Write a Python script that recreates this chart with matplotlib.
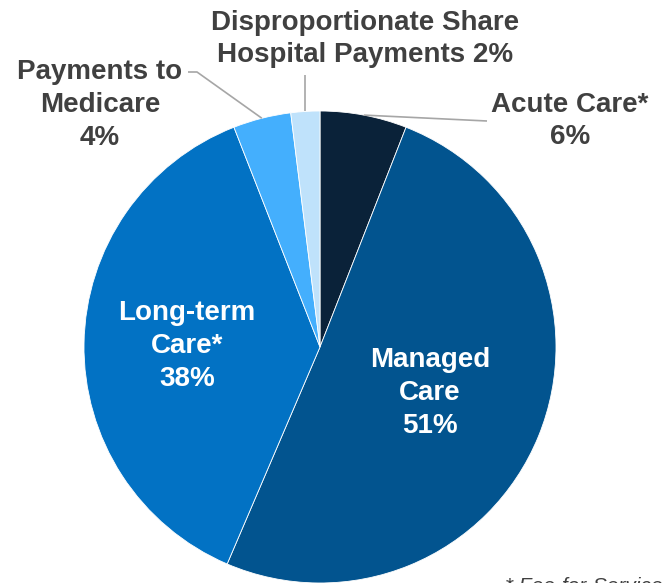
import numpy as np
import matplotlib
matplotlib.use("Agg")
import matplotlib.pyplot as plt

plt.rcParams['font.family'] = ['Liberation Sans', 'DejaVu Sans']

# Spending shares by category (percent), clockwise from 12 o'clock
categories = ["Acute Care*", "Managed Care", "Long-term Care*",
              "Payments to Medicare", "Disproportionate Share Hospital Payments"]
shares = [6, 51, 38, 4, 2]
label_texts = ["Acute Care*\n6%", "Managed\nCare\n51%", "Long-term\nCare*\n38%",
               "Payments to\nMedicare\n4%", "Disproportionate Share\nHospital Payments 2%"]
colors = ["#0A2239", "#02548F", "#0272C4", "#44AFFD", "#BFE2FB"]

W, H = 665, 583
fig = plt.figure(figsize=(W / 100, H / 100), dpi=100)
ax = fig.add_axes([0, 0, 1, 1])

cx, cy, r = 320, H - 347, 236
wedges, _ = ax.pie(shares, colors=colors, startangle=90, counterclock=False,
                   center=(cx, cy), radius=r,
                   wedgeprops=dict(edgecolor="white", linewidth=0.6))
ax.set_xlim(0, W)
ax.set_ylim(0, H)
ax.set_aspect('equal')
ax.axis('off')

def edge_point(w, frac=1.0):
    ang = np.deg2rad((w.theta1 + w.theta2) / 2)
    return cx + frac * r * np.cos(ang), cy + frac * r * np.sin(ang)

txt = dict(fontsize=20, fontweight='bold', ha='center', va='center',
           linespacing=1.33)
dark = "#404040"
lead = dict(color="#A6A6A6", linewidth=1.2, solid_capstyle='butt')

# Inside labels
ax.text(430, H - 393, label_texts[1], color='white', **txt)
ax.text(187, H - 346, label_texts[2], color='white', **txt)

# Outside labels with leader lines
ax.text(570, H - 121, label_texts[0], color=dark, **txt)
x0, y0 = edge_point(wedges[0])
ax.plot([x0, 487], [y0, H - 121], **lead)

ax.text(100, H - 105, label_texts[3], color=dark, **txt)
x0, y0 = edge_point(wedges[3])
ax.plot([x0, 197, 188], [y0, H - 72, H - 72], **lead)

ax.text(365, H - 39, label_texts[4], color=dark, **txt)
x0, y0 = edge_point(wedges[4])
ax.plot([x0, x0], [y0, H - 75], **lead)

# Footnote
ax.text(505, H - 586, "* Fee-for-Service", color=dark, fontsize=15,
        style='italic', ha='left', va='center')

fig.savefig("out.png", dpi=100)
